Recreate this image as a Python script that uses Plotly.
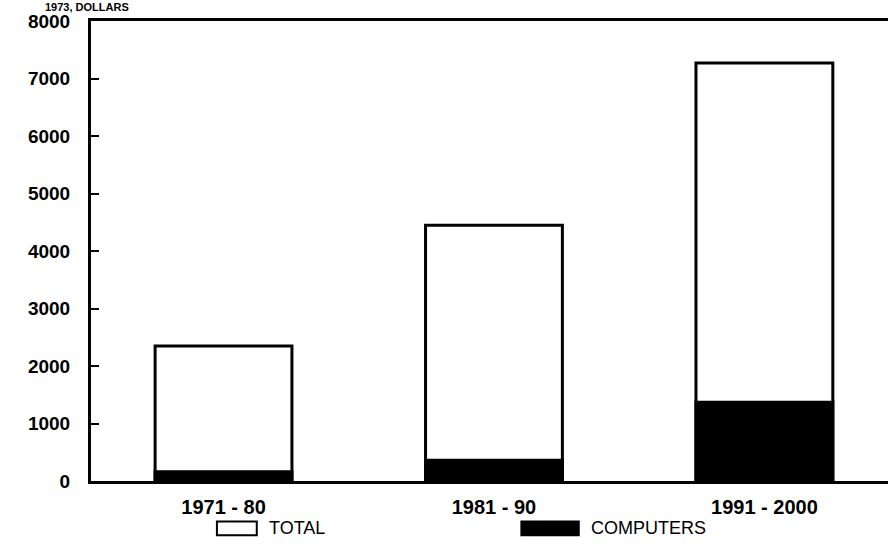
import plotly.graph_objects as go

periods = ["1971 - 80", "1981 - 90", "1991 - 2000"]
total = [2350, 4450, 7270]
computers = [160, 360, 1370]
y_ticks = [0, 1000, 2000, 3000, 4000, 5000, 6000, 7000, 8000]

xpos = list(range(len(periods)))
font = "Liberation Sans"

fig = go.Figure()
fig.add_trace(go.Bar(
    x=xpos, y=total, name="TOTAL", width=0.506,
    marker=dict(color="white", line=dict(color="black", width=3)),
))
fig.add_trace(go.Bar(
    x=xpos, y=computers, name="COMPUTERS", width=0.506,
    marker=dict(color="black", line=dict(color="black", width=3)),
))

fig.update_layout(
    width=888, height=546,
    barmode="overlay",
    showlegend=False,
    paper_bgcolor="white", plot_bgcolor="white",
    margin=dict(l=91, r=0, t=21, b=65),
    font=dict(family=font, color="black"),
)
fig.update_xaxes(
    range=[-0.49, 2.457], automargin=False,
    tickvals=xpos, ticktext=periods,
    tickfont=dict(family=font, size=20, weight="bold"),
    showline=True, linecolor="black", linewidth=3, mirror=True,
    showgrid=False, zeroline=False, ticks="", ticklabelstandoff=6,
)
fig.update_yaxes(
    range=[0, 8000], automargin=False,
    tickvals=y_ticks,
    tickfont=dict(family=font, size=19, weight="bold"),
    showline=True, linecolor="black", linewidth=3,
    ticks="inside", ticklen=8, tickwidth=2, tickcolor="black",
    showgrid=False, zeroline=False, ticklabelstandoff=14,
)

# unit label squeezed in at the very top
fig.add_annotation(
    text="1973, DOLLARS", xref="paper", yref="paper",
    x=0.049, y=1.0457, xanchor="right", yanchor="top",
    showarrow=False, borderpad=0,
    font=dict(family=font, size=11, weight="bold"),
)

# legend drawn below the axis
legend_keys = [("TOTAL", "white", 0.158), ("COMPUTERS", "black", 0.54)]
for label, fill, x0 in legend_keys:
    w = 0.05 if fill == "white" else 0.072
    fig.add_shape(
        type="rect", xref="paper", yref="paper",
        x0=x0, x1=x0 + w, y0=-0.118, y1=-0.088,
        fillcolor=fill, line=dict(color="black", width=2),
    )
    fig.add_annotation(
        text=label, xref="paper", yref="paper",
        x=x0 + w + 0.013, y=-0.103, xanchor="left", yanchor="middle",
        showarrow=False, font=dict(family=font, size=18),
    )

# page body has a default margin; drop it so the figure fills the window
fig.write_html("out.html", config={"displayModeBar": False},
               post_script="document.body.style.margin='0';")
